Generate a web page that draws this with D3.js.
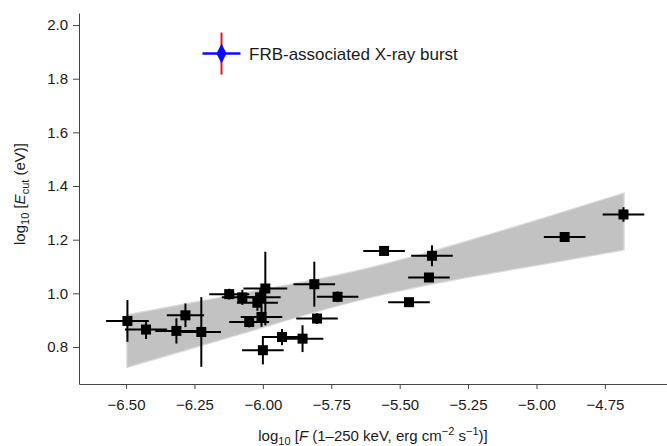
<!DOCTYPE html>
<html>
<head>
<meta charset="utf-8">
<script src="https://cdn.jsdelivr.net/npm/d3@7"></script>
<style>
  html, body { margin: 0; padding: 0; background: #fff; }
  svg { display: block; font-family: "Liberation Sans", Arial, Helvetica, sans-serif; }
</style>
</head>
<body>
<svg id="chart" width="667" height="446"></svg>
<script>
// Burst measurements: log10 flux (x), log10 cutoff energy (y) and their 1-sigma errors
const fluxLog = [-6.495, -6.427, -6.283, -6.316, -6.225, -6.123, -6.075, -5.991, -6.010, -6.020,
                 -6.050, -6.005, -6.000, -5.930, -5.855, -5.812, -5.727, -5.802, -5.557, -5.382,
                 -5.393, -5.466, -4.897, -4.682];
const ecutLog = [0.897, 0.865, 0.918, 0.860, 0.856, 0.997, 0.985, 1.018, 0.985, 0.965,
                 0.893, 0.912, 0.788, 0.837, 0.831, 1.034, 0.987, 0.906, 1.158, 1.140,
                 1.059, 0.967, 1.210, 1.294];
const fluxErr = [0.078, 0.077, 0.068, 0.077, 0.072, 0.073, 0.075, 0.080, 0.075, 0.075,
                 0.073, 0.076, 0.076, 0.070, 0.076, 0.076, 0.076, 0.076, 0.076, 0.076,
                 0.076, 0.076, 0.076, 0.076];
const ecutErr = [0.078, 0.035, 0.044, 0.047, 0.130, 0.020, 0.028, 0.137, 0.030, 0.030,
                 0.020, 0.037, 0.053, 0.030, 0.050, 0.084, 0.020, 0.020, 0.015, 0.039,
                 0.015, 0.015, 0.015, 0.027];

// Envelope of the fitted power-law relations
const bandX    = [-6.495, -6.27, -6.02, -5.82, -5.62, -5.42, -5.17, -4.92, -4.682];
const bandLow  = [0.726, 0.793, 0.869, 0.929, 0.983, 1.028, 1.076, 1.120, 1.163];
const bandHigh = [0.918, 0.961, 1.009, 1.047, 1.091, 1.144, 1.218, 1.296, 1.371];

const xTicks = [-6.5, -6.25, -6.0, -5.75, -5.5, -5.25, -5.0, -4.75];
const yTicks = [0.8, 1.0, 1.2, 1.4, 1.6, 1.8, 2.0];
const legendLabel = "FRB-associated X-ray burst";

const svg = d3.select("#chart");
const plotLeft = 79, plotRight = 667, plotTop = 13, plotBottom = 384;

const x = d3.scaleLinear().domain([-6.672, -4.523]).range([plotLeft, plotRight]);
const y = d3.scaleLinear().domain([0.662, 2.045]).range([plotBottom, plotTop]);

// Confidence band
const band = bandX.map((v, i) => ({x: v, lo: bandLow[i], hi: bandHigh[i]}));
const area = d3.area()
  .x(d => x(d.x)).y0(d => y(d.lo)).y1(d => y(d.hi))
  .curve(d3.curveMonotoneX);
svg.append("path").datum(band).attr("d", area)
  .attr("fill", "#d6d6d6").attr("stroke", "#dcdcdc").attr("stroke-width", 2.5);
svg.append("path").datum(band).attr("d", area)
  .attr("fill", "#c2c2c2");

// Error bars and markers
const pts = fluxLog.map((v, i) => ({x: v, y: ecutLog[i], ex: fluxErr[i], ey: ecutErr[i]}));
const g = svg.append("g");
pts.forEach(d => {
  g.append("line").attr("x1", x(d.x - d.ex)).attr("x2", x(d.x + d.ex))
    .attr("y1", y(d.y)).attr("y2", y(d.y))
    .attr("stroke", "#000").attr("stroke-width", 2);
  g.append("line").attr("x1", x(d.x)).attr("x2", x(d.x))
    .attr("y1", y(d.y - d.ey)).attr("y2", y(d.y + d.ey))
    .attr("stroke", "#000").attr("stroke-width", 2);
});
g.selectAll("rect").data(pts).enter().append("rect")
  .attr("x", d => x(d.x) - 5).attr("y", d => y(d.y) - 5)
  .attr("width", 10).attr("height", 10).attr("fill", "#000");

// Axes
const fmtX = d3.format(".2f"), fmtY = d3.format(".1f");
const xAxis = svg.append("g").attr("transform", `translate(0,${plotBottom})`)
  .call(d3.axisBottom(x).tickValues(xTicks).tickFormat(fmtX).tickSize(5).tickSizeOuter(0).tickPadding(10));
const yAxis = svg.append("g").attr("transform", `translate(${plotLeft},0)`)
  .call(d3.axisLeft(y).tickValues(yTicks).tickFormat(fmtY).tickSize(6).tickSizeOuter(0).tickPadding(5));
[xAxis, yAxis].forEach(a => {
  a.selectAll("path, line").attr("stroke", "#444").attr("stroke-width", 1);
  a.selectAll("text").attr("fill", "#1a1a1a").style("font-size", "15px")
    .style("font-family", "'Liberation Sans', Arial, Helvetica, sans-serif");
});

// Axis titles
const xt = svg.append("text").attr("x", (plotLeft + plotRight) / 2).attr("y", 441)
  .attr("text-anchor", "middle").style("font-size", "15px").attr("fill", "#1a1a1a");
xt.append("tspan").text("log");
xt.append("tspan").attr("dy", 4).style("font-size", "11px").text("10");
xt.append("tspan").attr("dy", -4).text(" [");
xt.append("tspan").style("font-style", "italic").text("F");
xt.append("tspan").text(" (1–250 keV, erg cm");
xt.append("tspan").attr("dy", -6).style("font-size", "11px").text("−2");
xt.append("tspan").attr("dy", 6).text(" s");
xt.append("tspan").attr("dy", -6).style("font-size", "11px").text("−1");
xt.append("tspan").attr("dy", 6).text(")]");

const yt = svg.append("text")
  .attr("transform", "translate(25,194) rotate(-90)")
  .attr("text-anchor", "middle").style("font-size", "15px").attr("fill", "#1a1a1a");
yt.append("tspan").text("log");
yt.append("tspan").attr("dy", 4).style("font-size", "11px").text("10");
yt.append("tspan").attr("dy", -4).text(" [");
yt.append("tspan").style("font-style", "italic").text("E");
yt.append("tspan").attr("dy", 4).style("font-size", "11px").text("cut");
yt.append("tspan").attr("dy", -4).text(" (eV)]");

// Legend
const lx = 221.5, ly = 53.5;
const lg = svg.append("g");
lg.append("line").attr("x1", lx).attr("x2", lx).attr("y1", ly - 21).attr("y2", ly + 21)
  .attr("stroke", "#f0141e").attr("stroke-width", 2);
lg.append("line").attr("x1", lx - 19).attr("x2", lx + 19).attr("y1", ly).attr("y2", ly)
  .attr("stroke", "#0a0aff").attr("stroke-width", 2.5);
lg.append("path").attr("d", `M${lx},${ly - 10}L${lx + 5},${ly}L${lx},${ly + 10}L${lx - 5},${ly}Z`)
  .attr("fill", "#0a0aff");
lg.append("text").attr("x", 249).attr("y", ly + 6).style("font-size", "17px")
  .attr("fill", "#1a1a1a").text(legendLabel);
</script>
</body>
</html>
